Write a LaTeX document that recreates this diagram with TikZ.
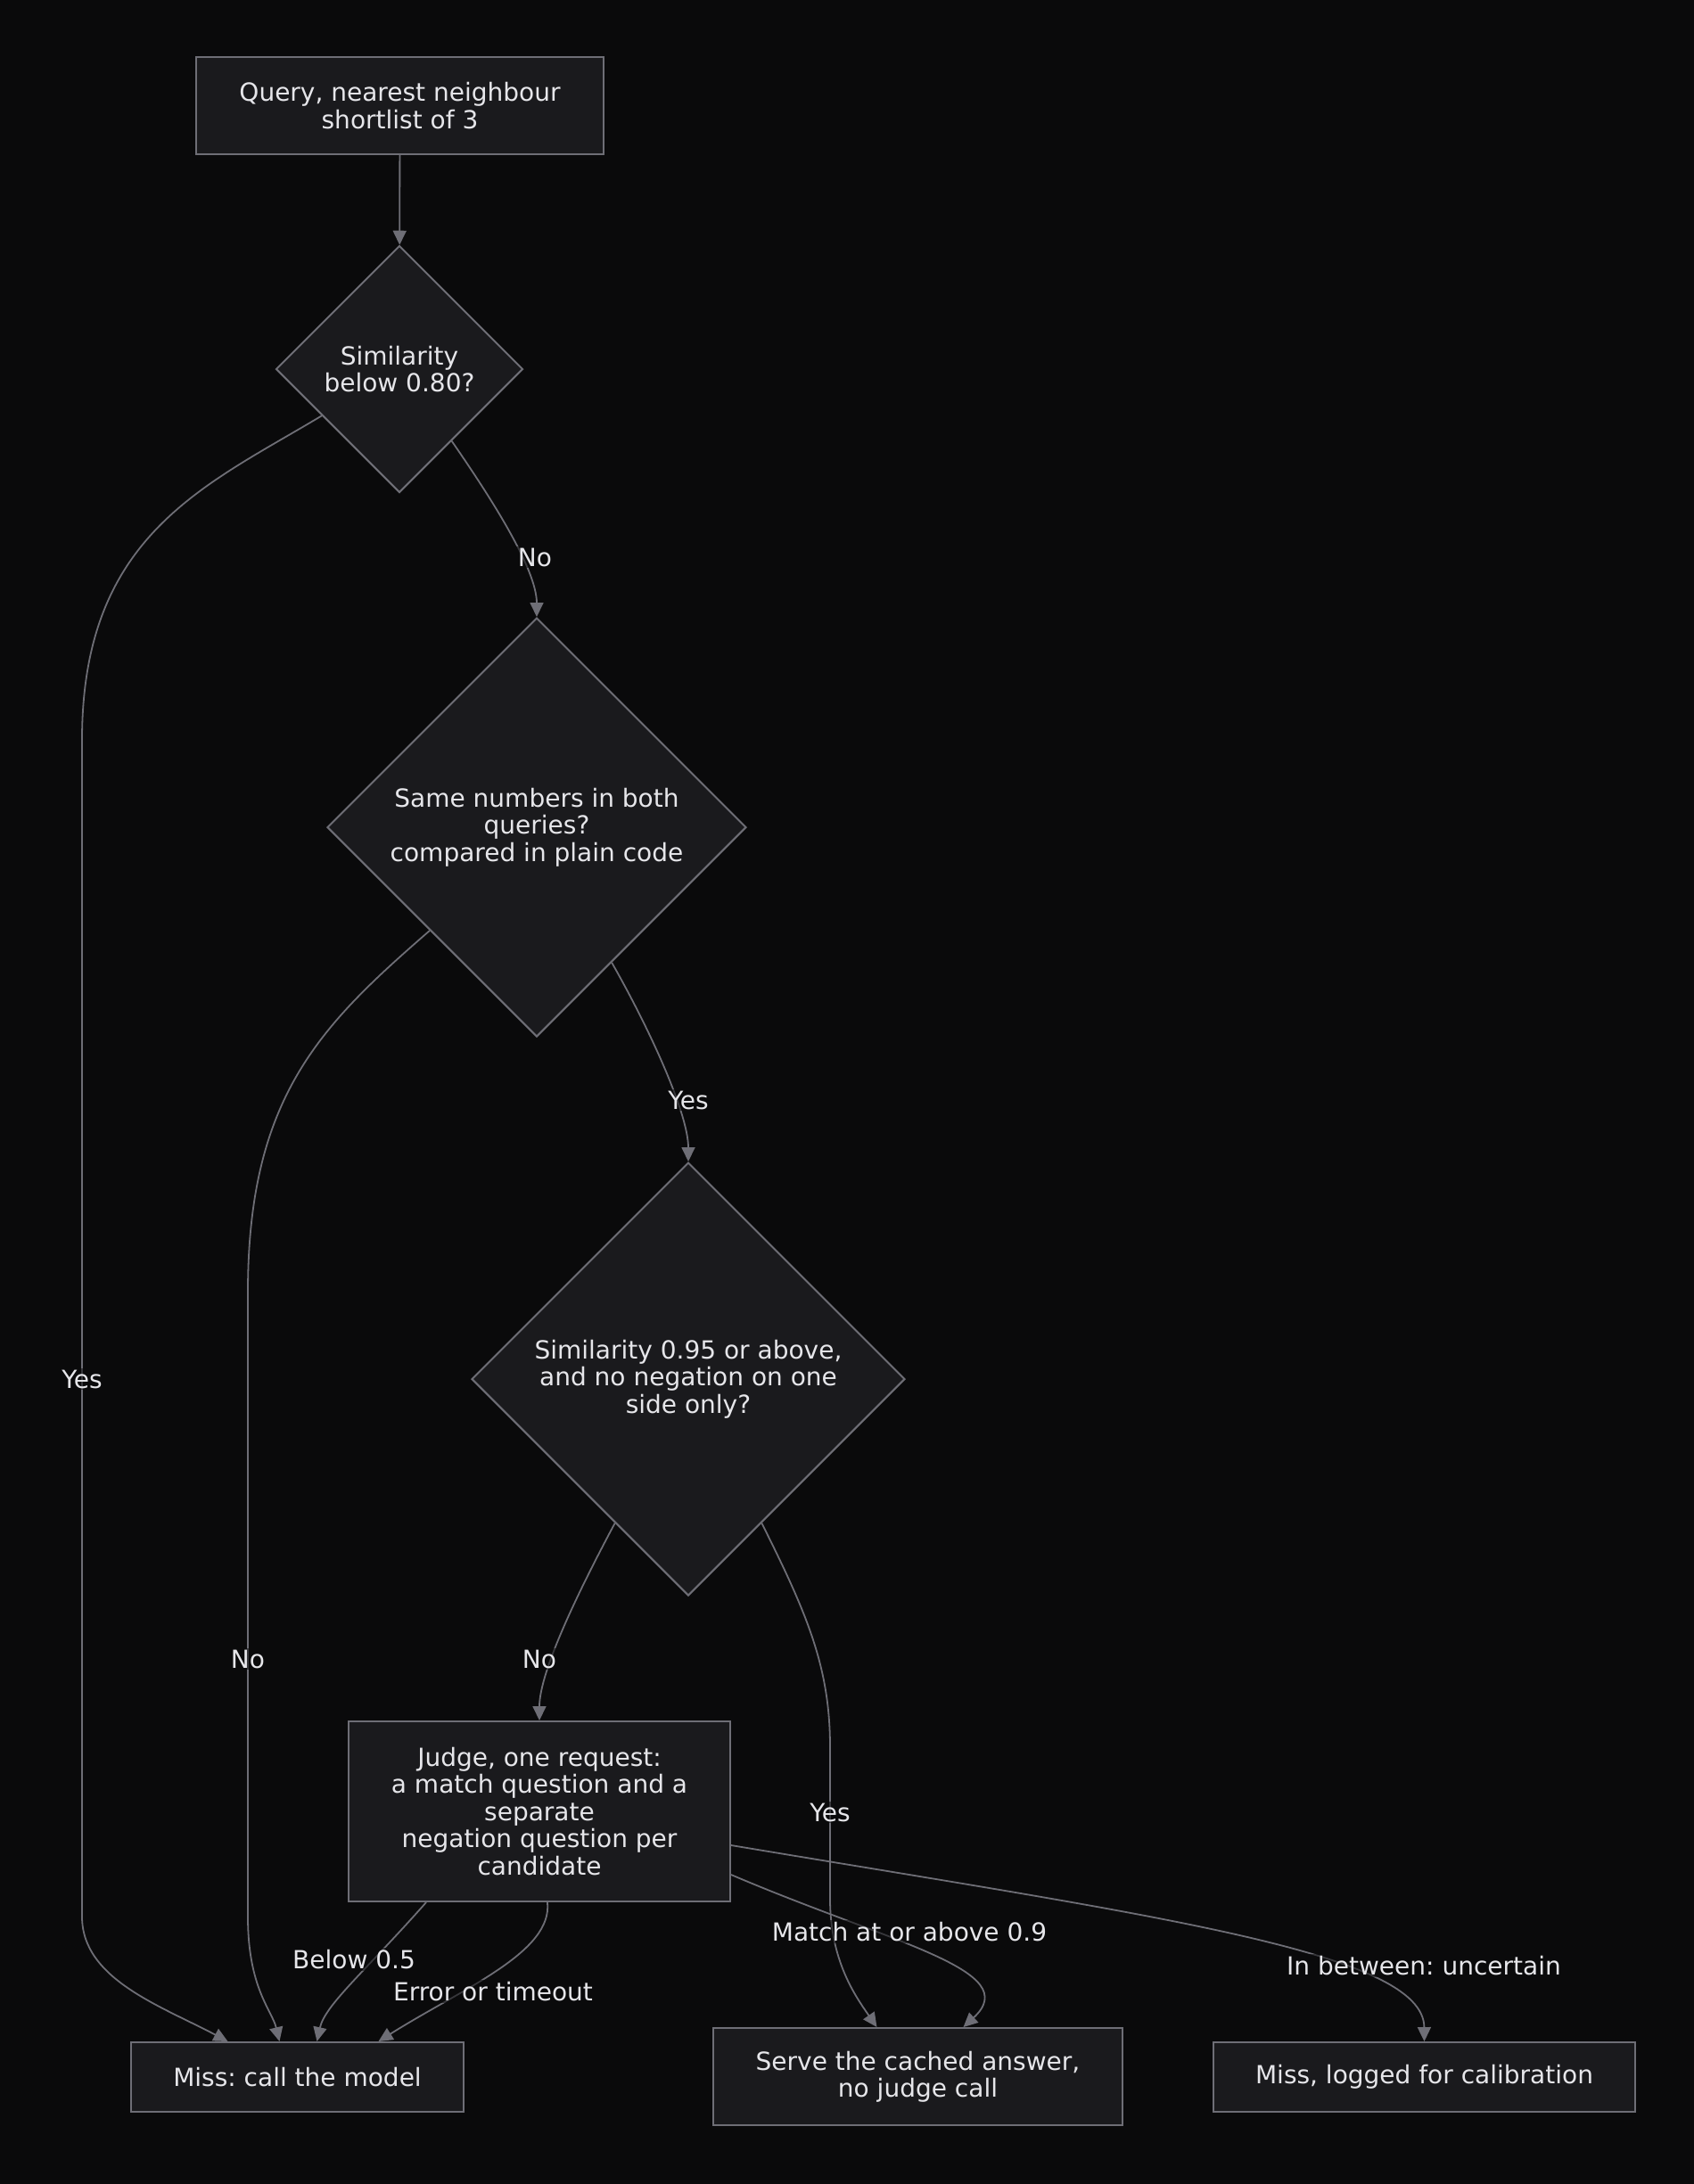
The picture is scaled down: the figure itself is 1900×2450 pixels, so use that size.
\documentclass[tikz,border=0pt]{standalone}
\usepackage{fontspec}
\setmainfont{DejaVu Sans}
\usetikzlibrary{arrows.meta,shapes.geometric}
\definecolor{canvas}{HTML}{0A0A0B}
\definecolor{boxfill}{HTML}{1A1A1D}
\definecolor{boxline}{HTML}{6E6E76}
\definecolor{inktext}{HTML}{E6E6EA}

\begin{document}
\frenchspacing
\begin{tikzpicture}[
    x=1pt,
    y=-1pt,
    box/.style={
      draw=boxline,
      fill=boxfill,
      line width=2pt,
      inner sep=0,
      align=center,
      text=inktext,
      font=\fontsize{28}{30.5}\selectfont\frenchspacing,
    },
    decision/.style={
      box,
      shape=diamond,
      aspect=1,
    },
    edge/.style={
      draw=boxline,
      line width=1.8pt,
      -{Triangle[length=16pt,width=15pt]},
    },
    edgetext/.style={
      fill=canvas,
      fill opacity=.55,
      text opacity=1,
      inner sep=2pt,
      text=inktext,
      font=\fontsize{28}{30.5}\selectfont\frenchspacing,
    },
  ]
    \newcommand\edgetag[3]{%
      \node[edgetext] (#1) at (#2) {#3};
    }

    \fill[canvas] (0,0) rectangle (1900,2450);
    \useasboundingbox (0,0) rectangle (1900,2450);

    \node[box,minimum width=457,minimum height=109] (query) at (448.5,118.5)
      {Query, nearest neighbour\\shortlist of 3};
    \node[decision,minimum width=277,minimum height=277] (simlow) at (448,414)
      {Similarity\\below 0.80?};
    \node[decision,minimum width=470,minimum height=470] (samenum) at (602,928)
      {Same numbers in both\\queries?\\compared in plain code};
    \node[decision,minimum width=486,minimum height=486] (simhigh) at (772,1547)
      {Similarity 0.95 or above,\\and no negation on one\\side only?};
    \node[box,minimum width=428,minimum height=202] (judge) at (605,2032)
      {Judge, one request:\\a match question and a\\separate\\negation question per\\candidate};
    \node[box,minimum width=373,minimum height=78] (missmodel) at (333.5,2330)
      {Miss: call the model};
    \node[box,minimum width=459,minimum height=109] (serve) at (1029.5,2329.5)
      {Serve the cached answer,\\no judge call};
    \node[box,minimum width=473,minimum height=78] (misslog) at (1597.5,2330)
      {Miss, logged for calibration};

    \draw[edge] (query) -- (simlow);
    \draw[edge] (simlow.-54) .. controls +(40,58) and +(0,-55) .. (samenum.north);
    \draw[edge] (simlow.-149) .. controls (230,545) and (92,600) .. (92,830)
      -- (92,2150) .. controls (92,2220) and (180,2250) .. ([xshift=-78pt]missmodel.north);
    \draw[edge] (samenum.-136) .. controls (360,1150) and (278,1230) .. (278,1450)
      -- (278,2150) .. controls (278,2230) and (305,2255) .. ([xshift=-20pt]missmodel.north);
    \draw[edge] (samenum.-61) .. controls +(40,70) and +(0,-55) .. (simhigh.north);
    \draw[edge] (simhigh.-117) .. controls +(-40,75) and +(0,-55) .. (judge.north);
    \draw[edge] (simhigh.-63) .. controls (905,1810) and (931,1870) .. (931,1960)
      -- (931,2130) .. controls (931,2200) and (960,2240) .. ([xshift=-46pt]serve.north);
    \draw[edge] ([xshift=-127pt]judge.south) .. controls +(-68,77) and +(9,-41) .. ([xshift=22pt]missmodel.north);
    \draw[edge] ([xshift=9pt]judge.south) .. controls (620,2190) and (520,2230) .. ([xshift=91pt]missmodel.north);
    \draw[edge] ([yshift=-71pt]judge.east) .. controls (1000,2180) and (1150,2210) .. ([xshift=51pt]serve.north);
    \draw[edge] ([yshift=-38pt]judge.east) .. controls (1300,2150) and (1597,2190) .. (misslog.north);

    \edgetag{nolow}{600,625}{No}
    \edgetag{yeslow}{92,1547}{Yes}
    \edgetag{nonum}{278,1861}{No}
    \edgetag{yesnum}{772,1234}{Yes}
    \edgetag{nohigh}{605,1861}{No}
    \edgetag{yeshigh}{931,2033}{Yes}
    \edgetag{below}{397,2198}{Below 0.5}
    \edgetag{failed}{553,2234}{Error or timeout}
    \edgetag{match}{1020,2167}{Match at or above 0.9}
    \edgetag{between}{1597,2205}{In between: uncertain}
\end{tikzpicture}
\end{document}
